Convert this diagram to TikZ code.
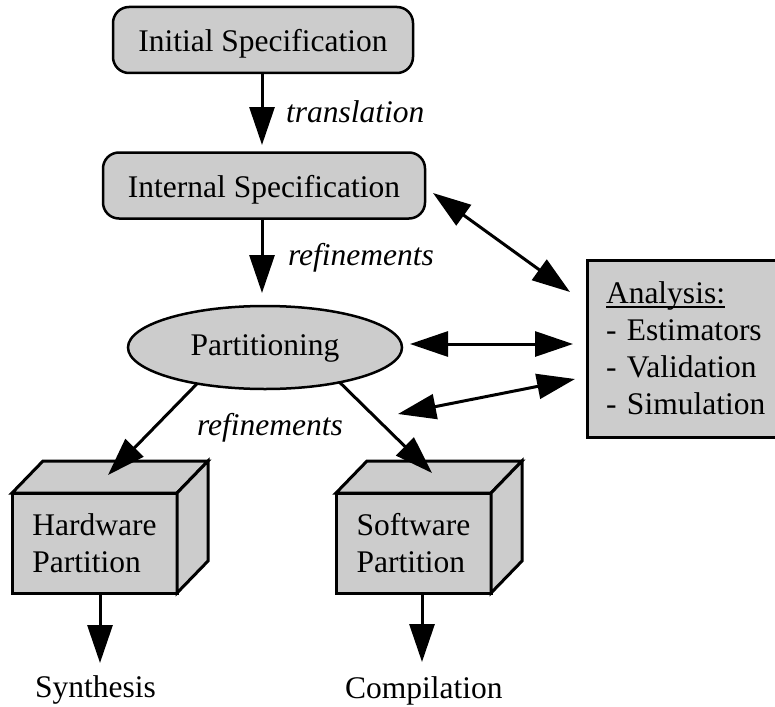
\documentclass[tikz,border=0pt]{standalone}
\usepackage{fontspec}
\setmainfont{Liberation Serif}
\usetikzlibrary{arrows.meta,shapes.geometric}
\definecolor{boxfill}{RGB}{204,204,204}
% underline drawn as a rule of fixed depth below the baseline
\newcommand\ulinetext[1]{\setbox0\hbox{#1}\rlap{\rule[-4pt]{\wd0}{1.8pt}}#1}

\begin{document}
\begin{tikzpicture}[x=1pt,y=-1pt,
  every node/.style={font=\fontsize{31.5}{37}\selectfont, outer sep=0pt},
  bigtip/.tip={Triangle[length=38pt,width=25pt]},
  flow/.style={line width=3pt,-bigtip},
  twoway/.style={line width=3pt,bigtip-bigtip},
  specbox/.style={draw,line width=2.5pt,fill=boxfill,rounded corners=16pt,
    minimum height=66pt,text height=24pt,text depth=0pt,inner sep=0pt},
  partell/.style={ellipse,draw,line width=2.5pt,fill=boxfill,minimum width=274pt,
    minimum height=83pt,inner sep=0pt,text height=16pt,text depth=0pt},
  front/.style={draw,line width=3pt,fill=boxfill,minimum height=100pt,
    inner sep=0pt,align=left},
  face/.style={draw,line width=3pt,fill=boxfill,line join=miter},
  anabox/.style={draw,line width=3pt,fill=boxfill,minimum height=177pt,
    text width=165pt,inner xsep=19pt,inner ysep=0pt,align=left},
  note/.style={anchor=base west,inner sep=0pt,font=\fontsize{31.5}{37}\selectfont\itshape},
  plain/.style={anchor=base west,inner sep=0pt}
]
\useasboundingbox (0,0) rectangle (775,706);

% specification boxes
\node[specbox,minimum width=300pt] (init) at (263,40) {Initial Specification};
\node[specbox,minimum width=322pt] (intl) at (264,185.5) {Internal Specification};

% partitioning step
\node[partell] (part) at (265,347.5) {Partitioning};

% analysis panel (right border runs past the page edge)
\node[anabox] (ana) at (688.5,348.5)
  {\ulinetext{Analysis:}\\- Estimators\\- Validation\\- Simulation};

% hardware partition block
\node[front,minimum width=165pt] (hw) at (94.5,543) {Hardware\\Partition};
\draw[face] (hw.north west) -- ++(31,-32) -- ([shift={(31,-32)}]hw.north east)
  -- (hw.north east) -- cycle;
\draw[face] (hw.north east) -- ([shift={(31,-32)}]hw.north east)
  -- ([shift={(31,-32)}]hw.south east) -- (hw.south east) -- cycle;

% software partition block
\node[front,minimum width=155pt] (sw) at (413.5,543) {Software\\Partition};
\draw[face] (sw.north west) -- ++(31,-32) -- ([shift={(31,-32)}]sw.north east)
  -- (sw.north east) -- cycle;
\draw[face] (sw.north east) -- ([shift={(31,-32)}]sw.north east)
  -- ([shift={(31,-32)}]sw.south east) -- (sw.south east) -- cycle;

% edge labels and outputs
\node[note] (ltrans) at (286,122) {translation};
\node[note] (lref1) at (288,265) {refinements};
\node[note] (lref2) at (197,435) {refinements};
\node[plain] (synth) at (35,697) {Synthesis};
\node[plain] (comp) at (345,698) {Compilation};

% connector end points
\coordinate (a1) at (262,73);
\coordinate (a1e) at (262,145);
\coordinate (a2) at (262,218);
\coordinate (a2e) at (262,293);
\coordinate (hwin) at (108,475);
\coordinate (swin) at (432,473);
\coordinate (hwout) at (100,663);
\coordinate (swout) at (422,662);
\coordinate (d1a) at (433,193);
\coordinate (d1b) at (570,292);
\coordinate (d2a) at (410,344);
\coordinate (d2b) at (573,344);
\coordinate (d3a) at (398,414);
\coordinate (d3b) at (575,379);

% flow arrows
\draw[flow] (a1 |- init.south) -- (a1e);
\draw[flow] (a2 |- intl.south) -- (a2e);
\draw[flow] (part.208) -- (hwin);
\draw[flow] (part.335) -- (swin);
\draw[flow] (hwout |- hw.south) -- (hwout);
\draw[flow] (swout |- sw.south) -- (swout);

% links to the analysis panel
\draw[twoway] (d1a) -- (d1b);
\draw[twoway] (d2a) -- (d2b);
\draw[twoway] (d3a) -- (d3b);
\end{tikzpicture}
\end{document}
